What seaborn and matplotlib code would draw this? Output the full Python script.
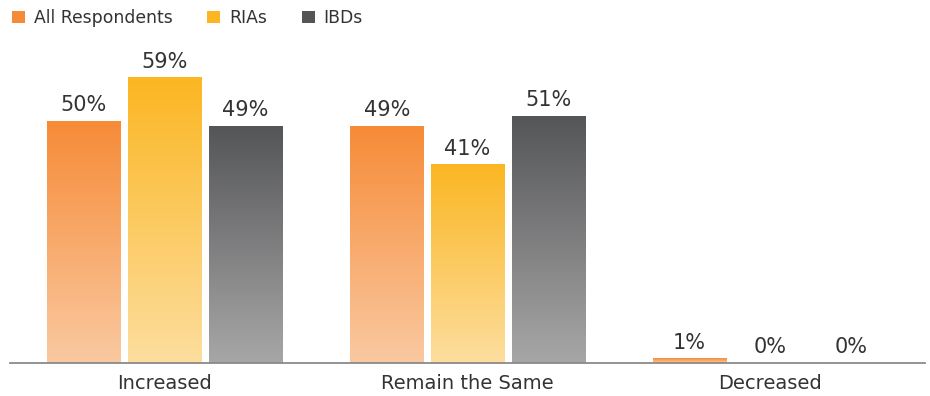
import numpy as np
import pandas as pd
import matplotlib
matplotlib.use("Agg")
import matplotlib.pyplot as plt
import seaborn as sns
from matplotlib.colors import LinearSegmentedColormap
from matplotlib.patches import Patch

categories = ["Increased", "Remain the Same", "Decreased"]
series = ["All Respondents", "RIAs", "IBDs"]
all_respondents = [50, 49, 1]
rias = [59, 41, 0]
ibds = [49, 51, 0]

top_colors = {"All Respondents": "#F68B37", "RIAs": "#FBB622", "IBDs": "#545557"}
bottom_colors = {"All Respondents": "#FAC9A1", "RIAs": "#FDDE9F", "IBDs": "#A8A7A8"}

rows = []
for name, vals in zip(series, [all_respondents, rias, ibds]):
    for c, v in zip(categories, vals):
        rows.append({"category": c, "series": name, "value": v})
df = pd.DataFrame(rows)

sns.set_theme(style="white")
plt.rcParams["font.family"] = ["DejaVu Sans"]
text_color = "#333333"

fig = plt.figure(figsize=(9.3, 3.96), dpi=100)
ax = fig.add_axes([10 / 930, 33 / 396, 915 / 930, 315 / 396])

sns.barplot(data=df, x="category", y="value", hue="series", order=categories,
            hue_order=series, palette=top_colors, width=0.8, gap=0.09,
            ax=ax, legend=False, saturation=1)

grad = np.linspace(0, 1, 1024).reshape(-1, 1)
for cont, name in zip(ax.containers, series):
    cmap = LinearSegmentedColormap.from_list(name, [bottom_colors[name], top_colors[name]], N=1024)
    vals = list(df[df.series == name].value)
    for patch in cont.patches:
        x, w, h = patch.get_x(), patch.get_width(), patch.get_height()
        patch.set_facecolor("none")
        patch.set_edgecolor("none")
        if h > 0:
            im = ax.imshow(grad, extent=[x, x + w, 0, h], origin="lower", aspect="auto",
                           cmap=cmap, zorder=2, interpolation="nearest")
            im.set_clip_path(patch)
    ax.bar_label(cont, labels=[f"{int(v)}%" for v in vals],
                 padding=4, fontsize=15, color=text_color)

ax.set_xlim(-0.51, 2.51)
ax.set_ylim(0, 65)

sns.despine(ax=ax, left=True, top=True, right=True)
ax.spines["bottom"].set_color("#8A8A8A")
ax.spines["bottom"].set_linewidth(1.3)
ax.spines["bottom"].set_zorder(5)
ax.set_yticks([])
ax.set_xlabel("")
ax.set_ylabel("")
ax.tick_params(axis="x", length=0, labelsize=14, labelcolor=text_color, pad=8)

handles = [Patch(facecolor=top_colors[s], edgecolor="none") for s in series]
fig.legend(handles, series, loc="upper left", bbox_to_anchor=(0.0, 1.008), ncol=3,
           frameon=False, fontsize=12.4, handlelength=0.75, handleheight=0.75,
           handletextpad=0.5, columnspacing=2.03, labelcolor=text_color,
           borderaxespad=0.3)

fig.savefig("out.png", dpi=100)
